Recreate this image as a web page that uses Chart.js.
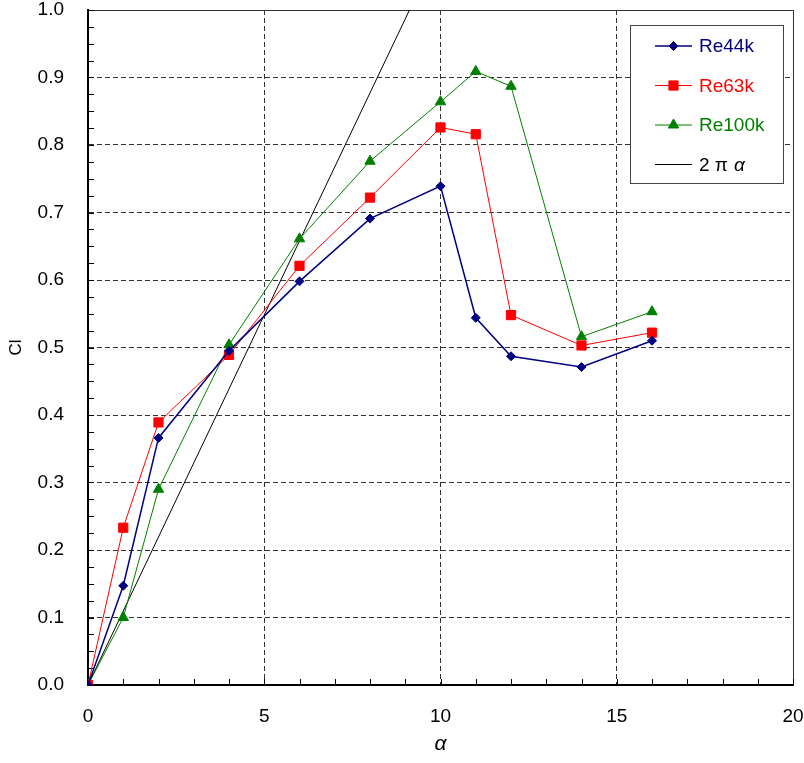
<!DOCTYPE html>
<html>
<head>
<meta charset="utf-8">
<script src="https://cdn.jsdelivr.net/npm/chart.js@4.4.1/dist/chart.umd.min.js"></script>
<style>
  html, body { margin: 0; padding: 0; background: #fff; }
</style>
</head>
<body>
<canvas id="clChart" width="804" height="763"></canvas>
<script>
// angle of attack (deg) and lift coefficient per Reynolds number
const alpha = [0, 1, 2, 4, 6, 8, 10, 11, 12, 14, 16];
const clRe44k = [0, 0.147, 0.366, 0.495, 0.598, 0.691, 0.739, 0.544, 0.487, 0.471, 0.510];
const clRe63k = [0, 0.233, 0.389, 0.489, 0.621, 0.722, 0.826, 0.816, 0.548, 0.503, 0.522];
const clRe100k = [0, 0.100, 0.290, 0.504, 0.661, 0.776, 0.864, 0.909, 0.887, 0.516, 0.553];

// thin airfoil line, 2*pi per radian
const alphaTheory = [0, 20];
const clTheory = [0, 2.193];

const seriesNames = ['Re44k', 'Re63k', 'Re100k', '2\u03c0\u03b1'];

const FONT = '"Liberation Sans", Arial, sans-serif';

function pts(xs, ys) {
    return xs.map((x, i) => ({ x: x, y: ys[i] }));
}

function isMajorY(v) {
    return Math.abs(v * 10 - Math.round(v * 10)) < 1e-6;
}

// keep the plot box fixed, labels may hang over the edges
function noPadding(scale) {
    scale.paddingTop = 0;
    scale.paddingBottom = 0;
    scale.paddingLeft = 0;
    scale.paddingRight = 0;
}

// small inward tick marks on both axes
const innerTicks = {
    id: 'innerTicks',
    beforeDatasetsDraw(chart) {
        const ctx = chart.ctx;
        const xs = chart.scales.x, ys = chart.scales.y;
        const a = chart.chartArea;
        ctx.save();
        ctx.strokeStyle = '#000';
        ctx.lineWidth = 1;
        ctx.beginPath();
        ys.ticks.forEach(t => {
            const py = Math.round(ys.getPixelForValue(t.value)) + 0.5;
            ctx.moveTo(a.left, py);
            ctx.lineTo(a.left + 6, py);
        });
        xs.ticks.forEach(t => {
            const px = Math.round(xs.getPixelForValue(t.value)) + 0.5;
            ctx.moveTo(px, a.bottom);
            ctx.lineTo(px, a.bottom - 6);
        });
        ctx.stroke();
        ctx.restore();
    }
};

// boxed legend in the upper right of the plot
const boxLegend = {
    id: 'boxLegend',
    afterDraw(chart) {
        const ctx = chart.ctx;
        const bx = 630, by = 25, bw = 153, bh = 158;
        ctx.save();
        ctx.fillStyle = '#fff';
        ctx.fillRect(bx, by, bw, bh);
        ctx.strokeStyle = '#444';
        ctx.lineWidth = 1;
        ctx.strokeRect(bx + 0.5, by + 0.5, bw, bh);
        chart.data.datasets.forEach((ds, i) => {
            const cy = by + 21 + i * 39.5;
            ctx.strokeStyle = ds.borderColor;
            ctx.lineWidth = ds.borderWidth;
            ctx.beginPath();
            ctx.moveTo(655, cy);
            ctx.lineTo(692, cy);
            ctx.stroke();
            if (ds.pointRadius > 0) {
                ctx.fillStyle = ds.pointBackgroundColor;
                ctx.strokeStyle = ds.pointBorderColor;
                ctx.lineWidth = 1;
                Chart.helpers.drawPoint(ctx, {
                    pointStyle: ds.pointStyle,
                    radius: ds.pointRadius,
                    rotation: 0,
                    borderWidth: 1
                }, 673.5, cy);
            }
            ctx.fillStyle = ds.legendColor;
            ctx.textBaseline = 'middle';
            ctx.textAlign = 'left';
            if (i < 3) {
                ctx.font = '19px ' + FONT;
                ctx.fillText(ds.label, 699, cy + 1);
            } else {
                ctx.font = '19px ' + FONT;
                ctx.fillText('2 \u03c0', 699, cy + 1);
                ctx.font = 'italic 19px ' + FONT;
                ctx.fillText('\u03b1', 734, cy + 1);
            }
        });
        ctx.restore();
    }
};

const data = {
    datasets: [{
        label: seriesNames[0],
        data: pts(alpha, clRe44k),
        borderColor: '#000080',
        backgroundColor: '#000080',
        pointBackgroundColor: '#000080',
        pointBorderColor: '#000080',
        legendColor: '#000080',
        borderWidth: 1.5,
        pointStyle: 'rectRot',
        pointRadius: 4.5,
        pointBorderWidth: 1
    }, {
        label: seriesNames[1],
        data: pts(alpha, clRe63k),
        borderColor: '#ff0000',
        backgroundColor: '#ff0000',
        pointBackgroundColor: '#ff0000',
        pointBorderColor: '#ff0000',
        legendColor: '#ff0000',
        borderWidth: 1,
        pointStyle: 'rect',
        pointRadius: 6.5,
        pointBorderWidth: 1
    }, {
        label: seriesNames[2],
        data: pts(alpha, clRe100k),
        borderColor: '#008000',
        backgroundColor: '#008000',
        pointBackgroundColor: '#008000',
        pointBorderColor: '#008000',
        legendColor: '#008000',
        borderWidth: 1,
        pointStyle: 'triangle',
        pointRadius: 6,
        pointBorderWidth: 1
    }, {
        label: seriesNames[3],
        data: pts(alphaTheory, clTheory),
        borderColor: '#000000',
        backgroundColor: '#000000',
        legendColor: '#000000',
        borderWidth: 1,
        pointRadius: 0,
        clip: 0
    }]
};

const config = {
    type: 'line',
    data: data,
    options: {
        responsive: false,
        animation: false,
        devicePixelRatio: 1,
        layout: {
            padding: { top: 10, right: 11, left: 0, bottom: 0 }
        },
        elements: {
            line: { tension: 0 }
        },
        plugins: {
            legend: { display: false },
            tooltip: { enabled: false }
        },
        scales: {
            x: {
                type: 'linear',
                min: 0,
                max: 20,
                afterFit(scale) { scale.height = 78; noPadding(scale); },
                ticks: {
                    stepSize: 1,
                    autoSkip: false,
                    maxRotation: 0,
                    padding: 20,
                    color: '#000',
                    font: { family: FONT, size: 19 },
                    callback: v => (v % 5 === 0 ? String(v) : '')
                },
                grid: {
                    drawTicks: false,
                    lineWidth: 1,
                    color: c => (c.tick && c.tick.value % 5 === 0 && c.tick.value > 0 ? '#333' : 'rgba(0,0,0,0)')
                },
                border: {
                    display: true,
                    color: '#000',
                    width: 2,
                    dash: c => (c.tick && c.tick.value >= 20 ? [] : [5, 3])
                },
                title: {
                    display: true,
                    text: '\u03b1',
                    color: '#000',
                    padding: { top: 0, bottom: 6 },
                    font: { family: FONT, size: 21, style: 'italic' }
                }
            },
            y: {
                type: 'linear',
                min: 0,
                max: 1,
                afterFit(scale) { scale.width = 88; noPadding(scale); },
                ticks: {
                    stepSize: 0.025,
                    autoSkip: false,
                    padding: 24,
                    color: '#000',
                    font: { family: FONT, size: 19 },
                    callback: v => (isMajorY(v) ? v.toFixed(1) : '')
                },
                grid: {
                    drawTicks: false,
                    lineWidth: 1,
                    color: c => (c.tick && isMajorY(c.tick.value) && c.tick.value > 0 ? '#333' : 'rgba(0,0,0,0)')
                },
                border: {
                    display: true,
                    color: '#000',
                    width: 2,
                    dash: c => (c.tick && c.tick.value >= 1 ? [] : [5, 3])
                },
                title: {
                    display: true,
                    text: 'Cl',
                    color: '#000',
                    padding: { top: 6, bottom: 0 },
                    font: { family: FONT, size: 17 }
                }
            }
        }
    },
    plugins: [innerTicks, boxLegend]
};

const clChart = new Chart(document.getElementById('clChart'), config);
</script>
</body>
</html>
